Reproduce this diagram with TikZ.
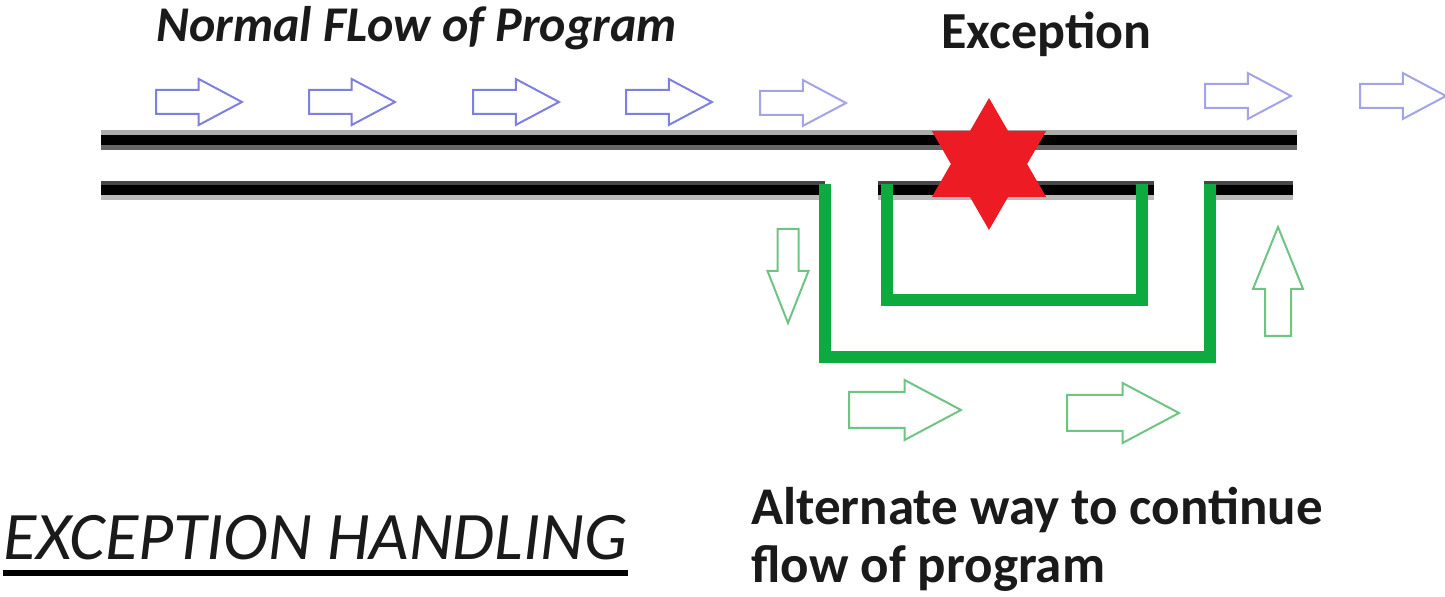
\documentclass[tikz,border=0pt]{standalone}
\usepackage{fontspec}
\setmainfont{Carlito}
\usetikzlibrary{shapes.geometric,shapes.arrows}
\definecolor{flowblue}{HTML}{7F7FDD}
\definecolor{flowbluelight}{HTML}{A3A3E8}
\definecolor{handgreen}{HTML}{0DAA40}
\definecolor{arrowgreen}{HTML}{6EC482}
\definecolor{starred}{HTML}{ED1C24}
\definecolor{inkdark}{HTML}{1A1A1A}
\begin{document}
\begin{tikzpicture}[x=0.5pt,y=-0.5pt,
  blockarrow/.style={single arrow, draw, fill=white, line width=1pt,
    inner sep=0pt, minimum width=0pt, single arrow head indent=0pt, anchor=tail},
  bluearrow/.style={blockarrow, draw=flowblue, inner ysep=5.5pt,
    single arrow head extend=5.5pt, minimum height=43pt, single arrow tip angle=56},
  fadedarrow/.style={bluearrow, draw=flowbluelight},
  greenright/.style={blockarrow, draw=arrowgreen, inner ysep=8.5pt,
    single arrow head extend=6pt, minimum height=56pt, single arrow tip angle=56},
  % for the vertical arrows the body half-width comes from the x separation
  greendown/.style={blockarrow, draw=arrowgreen, inner xsep=4.75pt,
    single arrow head extend=5pt, minimum height=47pt, single arrow tip angle=43,
    shape border rotate=270},
  greenup/.style={blockarrow, draw=arrowgreen, inner xsep=6pt,
    single arrow head extend=6pt, minimum height=54.5pt, single arrow tip angle=44,
    shape border rotate=90},
  pipe/.style={line width=5pt, black},
  pipeshade/.style={line width=2.5pt},
  handler/.style={line width=6pt, handgreen, line join=miter},
  label/.style={inner sep=0pt, anchor=base west, text=inkdark}
]
\useasboundingbox (0,0) rectangle (1445,597);

% upper pipe
\draw[pipeshade, color=black!33] (101,133) -- (1297,133);
\draw[pipeshade, color=black!60] (101,148) -- (1297,148);
\draw[pipe] (101,140.5) -- (1297,140.5);

% lower pipe, broken where the handler branches leave it
\foreach \a/\b in {101/825, 878/1154, 1204/1293}{
  \draw[pipeshade, color=black!72] (\a,183.5) -- (\b,183.5);
  \draw[pipeshade, color=black!27] (\a,197.5) -- (\b,197.5);
  \draw[pipe] (\a,190.5) -- (\b,190.5);
}

% handler branches
\coordinate (outA) at (825,184);
\coordinate (outB) at (825,357);
\coordinate (outC) at (1210,357);
\coordinate (outD) at (1210,184);
\coordinate (inA) at (887,184);
\coordinate (inB) at (887,300);
\coordinate (inC) at (1142,300);
\coordinate (inD) at (1142,184);
\draw[handler] (outA) -- (outB) -- (outC) -- (outD);
\draw[handler] (inA) -- (inB) -- (inC) -- (inD);

% exception point
\node[star, star points=6, star point ratio=1.732, minimum size=66pt,
  inner sep=0pt, fill=starred] (fault) at (989,164) {};

% normal flow arrows
\node[bluearrow] (n1) at (155,102) {};
\node[bluearrow] (n2) at (308,102) {};
\node[bluearrow] (n3) at (472,102) {};
\node[bluearrow] (n4) at (625,102) {};
\node[fadedarrow] (n5) at (759,103) {};
\node[fadedarrow] (n6) at (1204,96) {};
\node[fadedarrow] (n7) at (1359,96) {};

% alternate flow arrows
\node[greendown] (d1) at (788,228) {};
\node[greenright] (r1) at (848,410) {};
\node[greenright] (r2) at (1066,413) {};
\node[greenup] (u1) at (1278,337) {};

% labels
\node[label, font=\fontsize{25}{30}\selectfont\bfseries\itshape] (title) at (156,42) {Normal FLow of Program};
\node[label, font=\fontsize{26}{31}\selectfont\bfseries] (exclabel) at (941,49) {Exception};
\node[label, font=\fontsize{34}{40}\selectfont\itshape] (heading) at (3,560) {EXCEPTION HANDLING};
\draw[line width=3pt, black] (heading.south west |- 0,573) -- (heading.south east |- 0,573);
\node[label, font=\fontsize{26.5}{31}\selectfont\bfseries] (alt1) at (751,525) {Alternate way to continue};
\node[label, font=\fontsize{26.5}{31}\selectfont\bfseries] (alt2) at (751,583) {flow of program};
\end{tikzpicture}
\end{document}
